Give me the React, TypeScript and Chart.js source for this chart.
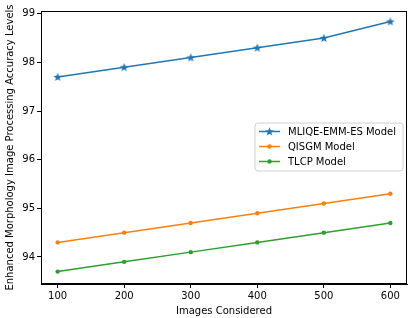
import React, { useEffect, useRef } from 'react';
import { Chart, registerables } from 'chart.js';

Chart.register(...registerables);

const imagesConsidered = [100, 200, 300, 400, 500, 600];
const mliqeValues = [97.7, 97.9, 98.1, 98.3, 98.5, 98.84];
const qisgmValues = [94.3, 94.5, 94.7, 94.9, 95.1, 95.3];
const tlcpValues = [93.7, 93.9, 94.1, 94.3, 94.5, 94.7];
const xTicks = [100, 200, 300, 400, 500, 600];
const yTicks = [94, 95, 96, 97, 98, 99];
const seriesLabels = ['MLIQE-EMM-ES Model', 'QISGM Model', 'TLCP Model'];
const seriesColors = ['#1f77b4', '#ff7f0e', '#2ca02c'];
const xTitle = 'Images Considered';
const yTitle = 'Enhanced Morphology Image Processing Accuracy Levels';

const FONT = "'DejaVu Sans', sans-serif";

function drawStar(ctx: CanvasRenderingContext2D, cx: number, cy: number, r: number, color: string) {
  ctx.save();
  ctx.beginPath();
  const inner = r * 0.42;
  for (let i = 0; i < 10; i++) {
    const rad = i % 2 === 0 ? r : inner;
    const a = -Math.PI / 2 + (i * Math.PI) / 5;
    const x = cx + rad * Math.cos(a);
    const y = cy + rad * Math.sin(a);
    if (i === 0) ctx.moveTo(x, y);
    else ctx.lineTo(x, y);
  }
  ctx.closePath();
  ctx.fillStyle = color;
  ctx.fill();
  ctx.restore();
}

function makeStarImage(color: string) {
  const c = document.createElement('canvas');
  c.width = 10;
  c.height = 10;
  const ctx = c.getContext('2d')!;
  drawStar(ctx, 5, 5.4, 4.6, color);
  return c;
}

const markerStyles = ['star', 'dot', 'dot'];

const framePlugin = {
  id: 'frameAndLegend',
  afterDraw(chart: any) {
    const { ctx, chartArea } = chart;
    ctx.save();
    ctx.strokeStyle = '#000';
    ctx.lineWidth = 1;
    ctx.strokeRect(
      Math.round(chartArea.left) + 0.5,
      Math.round(chartArea.top) + 0.5,
      Math.round(chartArea.right - chartArea.left) - 1,
      Math.round(chartArea.bottom - chartArea.top) - 1
    );
    // legend
    const bx = 255, by = 123, bw = 148, bh = 48;
    ctx.beginPath();
    const r = 3;
    ctx.moveTo(bx + r, by);
    ctx.lineTo(bx + bw - r, by);
    ctx.quadraticCurveTo(bx + bw, by, bx + bw, by + r);
    ctx.lineTo(bx + bw, by + bh - r);
    ctx.quadraticCurveTo(bx + bw, by + bh, bx + bw - r, by + bh);
    ctx.lineTo(bx + r, by + bh);
    ctx.quadraticCurveTo(bx, by + bh, bx, by + bh - r);
    ctx.lineTo(bx, by + r);
    ctx.quadraticCurveTo(bx, by, bx + r, by);
    ctx.closePath();
    ctx.fillStyle = 'rgba(255,255,255,0.8)';
    ctx.fill();
    ctx.strokeStyle = '#d0d0d0';
    ctx.lineWidth = 1;
    ctx.stroke();
    chart.data.datasets.forEach((ds: any, i: number) => {
      const y = 131.5 + i * 15;
      ctx.beginPath();
      ctx.moveTo(259, y);
      ctx.lineTo(280, y);
      ctx.strokeStyle = ds.borderColor;
      ctx.lineWidth = 1.5;
      ctx.stroke();
      if (markerStyles[i] === 'star') {
        drawStar(ctx, 269.5, y + 0.4, 4.6, ds.borderColor);
      } else {
        ctx.beginPath();
        ctx.arc(269.5, y, 2.2, 0, Math.PI * 2);
        ctx.fillStyle = ds.borderColor;
        ctx.fill();
      }
      ctx.fillStyle = '#000';
      ctx.font = `10px ${FONT}`;
      ctx.textAlign = 'left';
      ctx.textBaseline = 'middle';
      ctx.fillText(ds.label, 288, y + 0.5);
    });
    ctx.restore();
  },
};

export default function App() {
  const canvasRef = useRef<HTMLCanvasElement | null>(null);

  useEffect(() => {
    document.body.style.margin = '0';
    const seriesValues = [mliqeValues, qisgmValues, tlcpValues];
    const datasets = seriesValues.map((vals, i) => ({
      label: seriesLabels[i],
      data: imagesConsidered.map((x, j) => ({ x, y: vals[j] })),
      borderColor: seriesColors[i],
      backgroundColor: seriesColors[i],
      borderWidth: 1.5,
      pointStyle: markerStyles[i] === 'star' ? (makeStarImage(seriesColors[i]) as any) : 'circle',
      pointRadius: markerStyles[i] === 'star' ? 5 : 2.2,
      pointBorderWidth: 0,
      tension: 0,
      fill: false,
    }));
    const chart = new Chart(canvasRef.current!, {
      type: 'line',
      data: { datasets },
      options: {
        animation: false,
        responsive: true,
        maintainAspectRatio: false,
        layout: { padding: { top: 11, right: 5, left: 0, bottom: 0 } },
        plugins: { legend: { display: false }, tooltip: { enabled: false } },
        scales: {
          x: {
            type: 'linear',
            min: 75,
            max: 625,
            afterFit: (s: any) => { s.height = 34; },
            afterBuildTicks: (s: any) => { s.ticks = xTicks.map((v) => ({ value: v })); },
            grid: { drawOnChartArea: false, drawTicks: true, tickLength: 4, color: '#000' },
            border: { display: true, color: '#000', width: 1 },
            ticks: { color: '#000', font: { family: FONT, size: 10 }, padding: 2, maxRotation: 0 },
            title: { display: true, text: xTitle, color: '#000', font: { family: FONT, size: 10 }, padding: { top: 0, bottom: 1 } },
          },
          y: {
            type: 'linear',
            min: 93.445,
            max: 99.055,
            afterFit: (s: any) => { s.width = 41; },
            afterBuildTicks: (s: any) => { s.ticks = yTicks.map((v) => ({ value: v })); },
            grid: { drawOnChartArea: false, drawTicks: true, tickLength: 4, color: '#000' },
            border: { display: true, color: '#000', width: 1 },
            ticks: { color: '#000', font: { family: FONT, size: 10 }, padding: 2 },
            title: { display: true, text: yTitle, color: '#000', font: { family: FONT, size: 10 }, padding: { top: 4, bottom: 0 } },
          },
        },
      },
      plugins: [framePlugin],
    });
    return () => chart.destroy();
  }, []);

  return (
    <div style={{ position: 'fixed', left: 0, top: 0, width: 412, height: 318 }}>
      <canvas ref={canvasRef} />
    </div>
  );
}
